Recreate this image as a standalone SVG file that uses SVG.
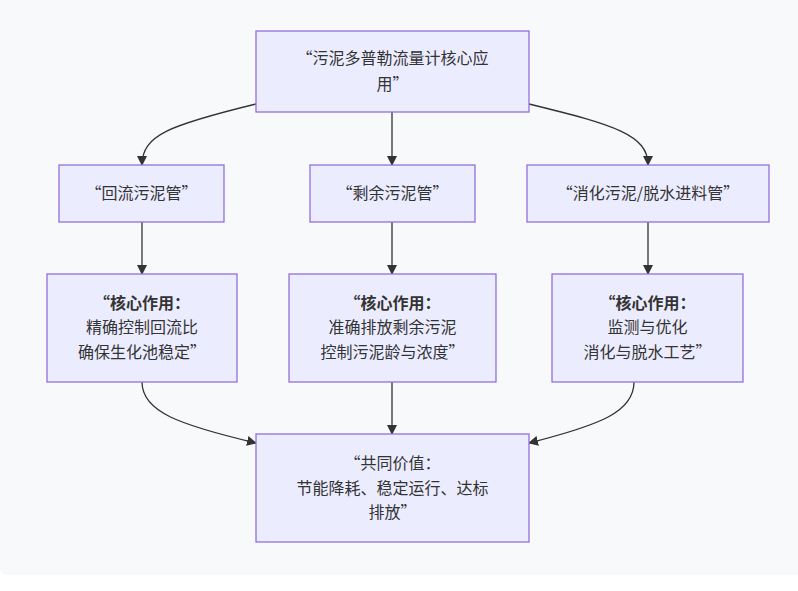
<svg xmlns="http://www.w3.org/2000/svg" width="798" height="591" viewBox="0 0 798 591">
<defs>
<style>
.n{fill:#ECECFF;stroke:#9370DB;stroke-width:1.3}
.t{font-family:"Noto Sans CJK SC","Liberation Sans",sans-serif;font-size:16px;fill:#333;text-anchor:middle}
.b{font-weight:bold}
.e{fill:none;stroke:#333;stroke-width:1.3}
</style>
<marker id="ah" viewBox="0 0 10 10" refX="9" refY="5" markerWidth="10" markerHeight="10" markerUnits="userSpaceOnUse" orient="auto">
<path d="M0,0 L10,5 L0,10 z" fill="#333"/>
</marker>
</defs>
<rect x="0" y="0" width="798" height="591" fill="#ffffff"/>
<path d="M0,0 H798 V575 H8 Q0,575 0,567 Z" fill="#f8f9fb"/>
<g id="connectors">
<path class="e" marker-end="url(#ah)" d="M256,104 C170,125 142,135 142,165"/>
<path class="e" marker-end="url(#ah)" d="M392,112 L392,165"/>
<path class="e" marker-end="url(#ah)" d="M529,104 C615,125 648,135 648,165"/>
<path class="e" marker-end="url(#ah)" d="M142,222 L142,274"/>
<path class="e" marker-end="url(#ah)" d="M392,222 L392,274"/>
<path class="e" marker-end="url(#ah)" d="M648,222 L648,274"/>
<path class="e" marker-end="url(#ah)" d="M142,382 C142,412 180,425 256,443"/>
<path class="e" marker-end="url(#ah)" d="M392,382 L392,434"/>
<path class="e" marker-end="url(#ah)" d="M634,382 C634,412 600,425 529,443"/>
</g>
<g id="top">
<rect class="n" x="256" y="31" width="273" height="81"/>
<text class="t" x="392.5" y="64">“污泥多普勒流量计核心应</text>
<text class="t" x="392.5" y="90">用”</text>
</g>
<g id="p1">
<rect class="n" x="59" y="165" width="165" height="57"/>
<text class="t" x="141.5" y="199">“回流污泥管”</text>
</g>
<g id="p2">
<rect class="n" x="310" y="165" width="165" height="57"/>
<text class="t" x="392.5" y="199">“剩余污泥管”</text>
</g>
<g id="p3">
<rect class="n" x="527" y="165" width="242" height="57"/>
<text class="t" x="648" y="199">“消化污泥/脱水进料管”</text>
</g>
<g id="r1">
<rect class="n" x="47" y="274" width="190" height="108"/>
<text class="t b" x="142" y="309">“核心作用：</text>
<text class="t" x="142" y="333">精确控制回流比</text>
<text class="t" x="142" y="358">确保生化池稳定”</text>
</g>
<g id="r2">
<rect class="n" x="289" y="274" width="207" height="108"/>
<text class="t b" x="392.5" y="309">“核心作用：</text>
<text class="t" x="392.5" y="333">准确排放剩余污泥</text>
<text class="t" x="392.5" y="358">控制污泥龄与浓度”</text>
</g>
<g id="r3">
<rect class="n" x="552" y="274" width="191" height="108"/>
<text class="t b" x="647.5" y="309">“核心作用：</text>
<text class="t" x="647.5" y="333">监测与优化</text>
<text class="t" x="647.5" y="358">消化与脱水工艺”</text>
</g>
<g id="bottom">
<rect class="n" x="256" y="434" width="273" height="108"/>
<text class="t" x="392.5" y="469">“共同价值：</text>
<text class="t" x="392.5" y="494">节能降耗、稳定运行、达标</text>
<text class="t" x="392.5" y="518">排放”</text>
</g>
</svg>
